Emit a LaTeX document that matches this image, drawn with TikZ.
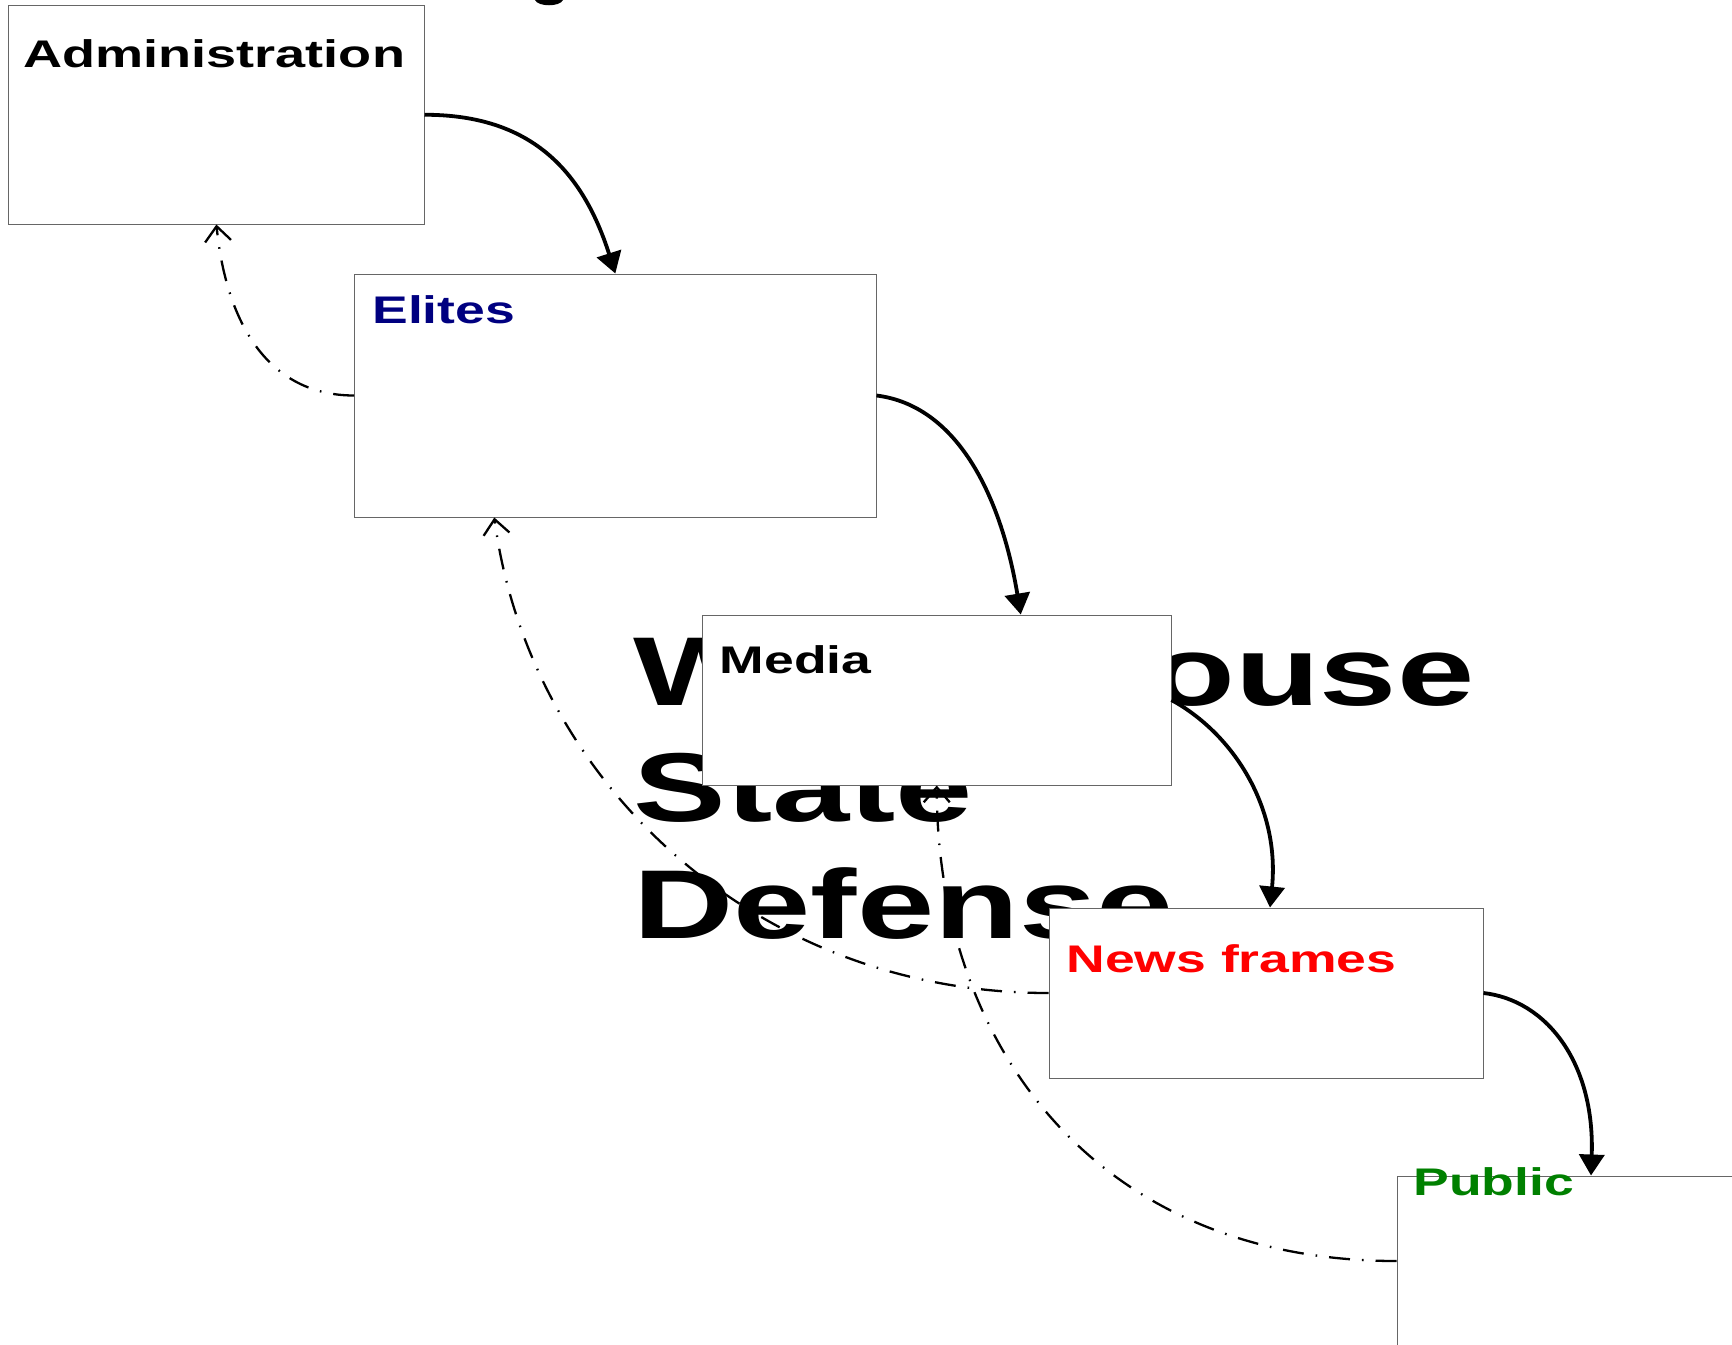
\documentclass[tikz,border=0pt]{standalone}
\usepackage{fontspec}
\setmainfont{Liberation Sans}
\usetikzlibrary{arrows.meta,calc}
\definecolor{elitesblue}{RGB}{0,0,128}
\definecolor{newsred}{RGB}{255,0,0}
\definecolor{publicgreen}{RGB}{0,128,0}
\begin{document}
\begin{tikzpicture}[x=0.5pt,y=-0.5pt,
  box/.style={draw=black!60, line width=0.5pt, fill=white, rectangle, inner sep=0pt},
  lbl/.style={anchor=base west, inner sep=0pt, font=\fontsize{19.25}{23}\selectfont\bfseries},
  big/.style={anchor=base west, inner sep=0pt, font=\fontsize{48.9}{58}\selectfont\bfseries},
  flow/.style={line width=1.9pt, -{Triangle[length=10.5pt,width=12.5pt]}},
  back/.style={line width=1.15pt, dash pattern=on 10.5pt off 6pt on 0.8pt off 6pt, -{Straight Barb[length=7.5pt,width=13pt]}},
]
\useasboundingbox (0,0) rectangle (1732,1344);
% partly hidden background text
\node[big] (bigA) at (633,705) {\scalebox{1.42}[1]{White House}};
\node[big] (bigB) at (633,821.7) {\scalebox{1.42}[1]{State}};
\node[big] (bigC) at (633,938) {\scalebox{1.42}[1]{Defense}};
% descender of a letter cut off at the top edge
\fill (535,0) .. controls (538,7) and (560,7) .. (563,0) -- cycle;
% boxes
\node[box, minimum width=207.6pt, minimum height=109.25pt] (admin) at (216.4,114.75) {};
\node[box, minimum width=260.7pt, minimum height=121.5pt] (elites) at (615.3,395.5) {};
\node[box, minimum width=234.25pt, minimum height=85pt] (media) at (936.75,700) {};
\node[box, minimum width=217pt, minimum height=85pt] (news) at (1266,993) {};
\node[box, minimum width=194pt, minimum height=85pt] (public) at (1591,1261) {};
% labels
\node[lbl] (adminlbl) at (23,67) {\scalebox{1.405}[1]{Administration}};
\node[lbl, text=elitesblue] (eliteslbl) at (372,323) {\scalebox{1.39}[1]{Elites}};
\node[lbl] (medialbl) at (719.5,673) {\scalebox{1.39}[1]{Media}};
\node[lbl, text=newsred] (newslbl) at (1066,972.7) {\scalebox{1.39}[1]{News frames}};
\node[lbl, text=publicgreen] (publiclbl) at (1413,1195) {\scalebox{1.39}[1]{Public}};
% forward cascade
\draw[flow] (admin.east) .. controls +(100,0) and +(-35,-110) .. (elites.north);
\draw[flow] (elites.east) .. controls +(80,10) and +(-20,-120) .. ($(media.north)+(84,0)$);
\draw[flow] (media.east) .. controls +(62,34) and +(10,-100) .. ($(news.north)+(4,0)$);
\draw[flow] (news.east) .. controls +(62,7) and +(4,-114) .. (public.north);
% feedback
\draw[back] (elites.west) .. controls +(-85,0) and +(10,100) .. (admin.south);
\draw[back] (news.west) .. controls +(-300,0) and +(34,257) .. ($(elites.south)+(-121,0)$);
\draw[back] (public.west) .. controls +(-300,0) and +(0,260) .. (media.south);
\end{tikzpicture}
\end{document}
